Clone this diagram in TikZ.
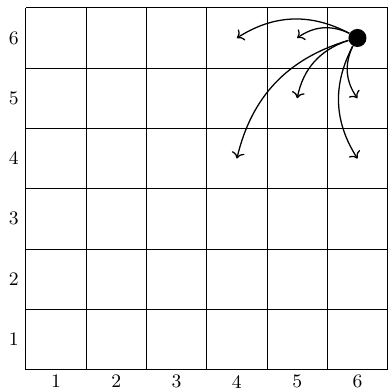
\documentclass[tikz,border=0pt]{standalone}
\usetikzlibrary{arrows.meta,positioning}

\begin{document}
\begin{tikzpicture}
  \useasboundingbox (-0.43,-0.34) rectangle (6,6.13);
  % board
  \draw[thin] (0,0) grid (6,6);
  \foreach \i in {1,...,6} {
    \node[font=\small] (col\i) at (\i-0.5,-0.2) {\i};
    \node[font=\small] (row\i) at (-0.2,\i-0.5) {\i};
  }
  % piece and its moves
  \node[circle,fill=black,minimum size=0.3cm,inner sep=0pt] (piece) at (5.5,5.5) {};
  \coordinate (m46) at (3.5,5.5);
  \coordinate (m56) at (4.5,5.5);
  \coordinate (m55) at (4.5,4.5);
  \coordinate (m65) at (5.5,4.5);
  \coordinate (m44) at (3.5,3.5);
  \coordinate (m64) at (5.5,3.5);
  \foreach \m in {m46,m56,m55,m65,m44,m64}
    \draw[->,semithick] (piece) to[bend right=30] (\m);
\end{tikzpicture}
\end{document}
